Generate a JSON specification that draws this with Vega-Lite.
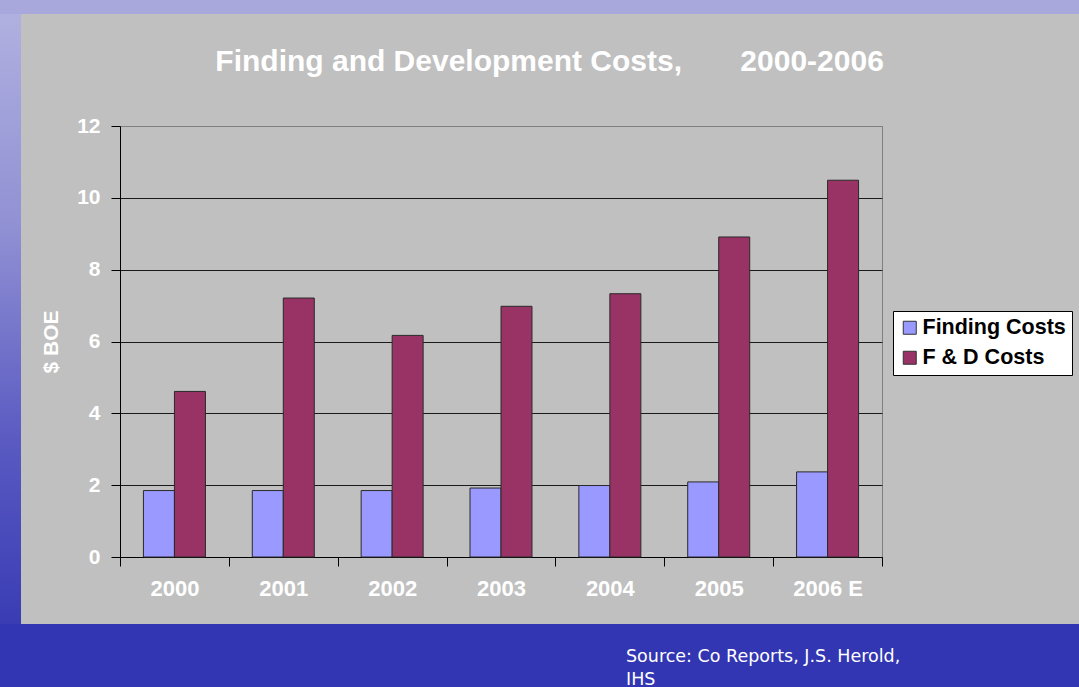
{
  "$schema": "https://vega.github.io/schema/vega-lite/v6.json",
  "background": "#c0c0c0",
  "padding": 0,
  "spacing": 0,
  "config": {
    "view": {"stroke": null},
    "font": "Liberation Sans"
  },
  "vconcat": [
    {
      "width": 1079,
      "height": 14,
      "data": {"values": []},
      "mark": "text",
      "view": {"fill": "#a8a8dc", "stroke": null}
    },
    {
      "spacing": 19,
      "hconcat": [
        {
          "width": 21,
          "height": 610,
          "data": {"values": []},
          "mark": "text",
          "view": {
            "stroke": null,
            "fill": {
              "gradient": "linear",
              "x1": 0, "y1": 0, "x2": 0, "y2": 1,
              "stops": [
                {"offset": 0, "color": "#b0b0e0"},
                {"offset": 0.35, "color": "#9090d4"},
                {"offset": 0.7, "color": "#5a5ac2"},
                {"offset": 1, "color": "#3a3cb4"}
              ]
            }
          }
        },
        {
          "spacing": 31,
          "vconcat": [
            {
              "width": 1,
              "height": 1,
              "data": {"values": []},
              "mark": "text"
            },
            {
              "width": 762,
              "height": 431,
              "title": {
                "text": "Finding and Development Costs,\u00a0\u00a0\u00a0\u00a0\u00a0\u00a0\u00a02000-2006",
                "color": "white",
                "font": "Liberation Sans",
                "fontSize": 30,
                "fontWeight": "bold",
                "anchor": "middle",
                "frame": "bounds",
                "baseline": "alphabetic",
                "offset": 14,
                "dx": 88
              },
              "view": {"stroke": "#808080", "strokeWidth": 1, "fill": null},
              "data": {
                "values": [
                  {"year": "2000", "series": "Finding Costs", "value": 1.85},
                  {"year": "2000", "series": "F & D Costs", "value": 4.61},
                  {"year": "2001", "series": "Finding Costs", "value": 1.85},
                  {"year": "2001", "series": "F & D Costs", "value": 7.21},
                  {"year": "2002", "series": "Finding Costs", "value": 1.85},
                  {"year": "2002", "series": "F & D Costs", "value": 6.17},
                  {"year": "2003", "series": "Finding Costs", "value": 1.92},
                  {"year": "2003", "series": "F & D Costs", "value": 6.98},
                  {"year": "2004", "series": "Finding Costs", "value": 1.99},
                  {"year": "2004", "series": "F & D Costs", "value": 7.33},
                  {"year": "2005", "series": "Finding Costs", "value": 2.09},
                  {"year": "2005", "series": "F & D Costs", "value": 8.91},
                  {"year": "2006 E", "series": "Finding Costs", "value": 2.37},
                  {"year": "2006 E", "series": "F & D Costs", "value": 10.49}
                ]
              },
              "mark": {"type": "bar", "stroke": "#2a2a2a", "strokeWidth": 1},
              "encoding": {
                "x": {
                  "field": "year",
                  "type": "nominal",
                  "sort": ["2000", "2001", "2002", "2003", "2004", "2005", "2006 E"],
                  "scale": {"paddingInner": 0, "paddingOuter": 0},
                  "axis": {
                    "title": null,
                    "labelAngle": 0,
                    "tickBand": "extent",
                    "grid": false,
                    "domainColor": "#000000",
                    "tickColor": "#000000",
                    "tickSize": 9,
                    "labelPadding": 12,
                    "labelColor": "white",
                    "labelFont": "Liberation Sans",
                    "labelFontSize": 22,
                    "labelFontWeight": "bold"
                  }
                },
                "xOffset": {
                  "field": "series",
                  "type": "nominal",
                  "sort": ["Finding Costs", "F & D Costs"],
                  "scale": {"paddingInner": 0, "paddingOuter": 0.756}
                },
                "y": {
                  "field": "value",
                  "type": "quantitative",
                  "scale": {"domain": [0, 12], "nice": false},
                  "axis": {
                    "values": [0, 2, 4, 6, 8, 10, 12],
                    "title": "$ BOE",
                    "titleColor": "white",
                    "titleFont": "Liberation Sans",
                    "titleFontSize": 21,
                    "titleFontWeight": "bold",
                    "titlePadding": 15,
                    "labelColor": "white",
                    "labelFont": "Liberation Sans",
                    "labelFontSize": 21,
                    "labelFontWeight": "bold",
                    "labelPadding": 11,
                    "tickSize": 9,
                    "tickColor": "#000000",
                    "domainColor": "#000000",
                    "grid": true,
                    "gridColor": {"condition": {"test": "datum.value === 12", "value": "#808080"}, "value": "#1a1a1a"},
                    "gridOpacity": 1
                  }
                },
                "color": {
                  "field": "series",
                  "type": "nominal",
                  "sort": ["Finding Costs", "F & D Costs"],
                  "scale": {"domain": ["Finding Costs", "F & D Costs"], "range": ["#9999ff", "#993366"]},
                  "legend": {
                    "title": null,
                    "orient": "none",
                    "legendX": 893,
                    "legendY": 311,
                    "fillColor": "white",
                    "strokeColor": "#000000",
                    "padding": 6,
                    "symbolType": "square",
                    "symbolSize": 169,
                    "symbolStrokeColor": "#333333",
                    "symbolStrokeWidth": 1,
                    "labelFont": "Liberation Sans",
                    "labelFontSize": 21.5,
                    "labelFontWeight": "bold",
                    "labelColor": "#000000",
                    "labelOffset": 2,
                    "labelLimit": 300,
                    "rowPadding": 7
                  }
                }
              }
            }
          ]
        }
      ]
    },
    {
      "width": 1079,
      "height": 63,
      "data": {"values": []},
      "mark": "text",
      "view": {"fill": "#3236b2", "stroke": null},
      "title": {
        "text": ["Source: Co Reports, J.S. Herold,", "IHS"],
        "orient": "top",
        "anchor": "start",
        "frame": "group",
        "baseline": "top",
        "offset": -64,
        "dx": 626,
        "color": "white",
        "font": "DejaVu Sans",
        "fontSize": 17.5,
        "fontWeight": "normal",
        "lineHeight": 23
      }
    }
  ]
}
